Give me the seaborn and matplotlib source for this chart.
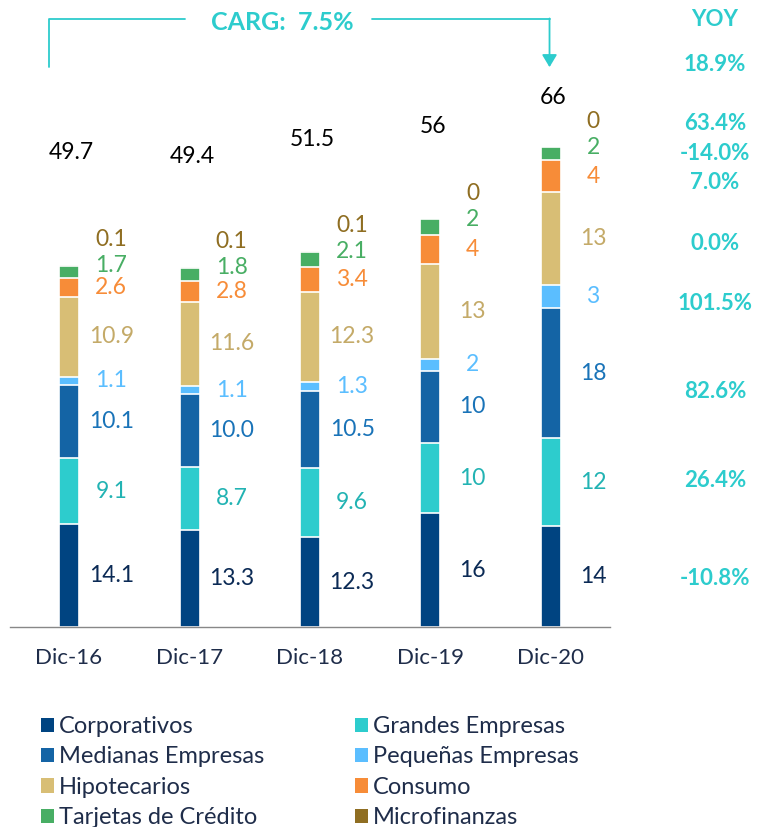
import matplotlib
matplotlib.use("Agg")
import matplotlib.pyplot as plt
from matplotlib.patches import Patch
import numpy as np
import pandas as pd
import seaborn as sns

# data
periods = ["Dic-16", "Dic-17", "Dic-18", "Dic-19", "Dic-20"]
series = ["Corporativos", "Grandes Empresas", "Medianas Empresas", "Pequeñas Empresas",
          "Hipotecarios", "Consumo", "Tarjetas de Crédito", "Microfinanzas"]
corporativos = [14.1, 13.3, 12.3, 15.6, 13.9]
grandes = [9.1, 8.7, 9.6, 9.7, 12.0]
medianas = [10.1, 10.0, 10.5, 9.9, 17.9]
pequenas = [1.1, 1.1, 1.3, 1.6, 3.2]
hipotecarios = [10.9, 11.6, 12.3, 13.0, 12.8]
consumo = [2.6, 2.8, 3.4, 4.1, 4.3]
tarjetas = [1.7, 1.8, 2.1, 2.1, 1.8]
microfinanzas = [0.1, 0.1, 0.1, 0.0, 0.0]
totals = [49.7, 49.4, 51.5, 56, 66]
decimals = [1, 1, 1, 0, 0]
yoy_series = [-10.8, 26.4, 82.6, 101.5, 0.0, 7.0, -14.0, 63.4]
yoy_total = 18.9
carg = 7.5

colors = ["#004481", "#2DCCCD", "#1464A5", "#5BBEFF", "#D8BE75", "#F78C38", "#48AE64", "#8F6E22"]
label_colors = ["#0B2A55", "#22B3B3", "#1973B8", "#5BBEFF", "#C4AA68", "#F78C38", "#48AE64", "#8F6E22"]
teal = "#2DCCCD"
dark = "#1F2D4A"

values = [corporativos, grandes, medianas, pequenas, hipotecarios, consumo, tarjetas, microfinanzas]
df = pd.DataFrame(np.array(values).T, columns=series, index=periods)
cum = df.cumsum(axis=1)

sns.set_style("white")
plt.rcParams["font.family"] = ["Lato", "DejaVu Sans"]

fig = plt.figure(figsize=(7.59, 8.27), dpi=100)
ax = fig.add_axes([10 / 759, 1 - 627 / 827, 600 / 759, 627 / 827])

# stacked bars: draw cumulative heights from top to bottom so each overlays
for i in range(len(series) - 1, -1, -1):
    sns.barplot(x=periods, y=cum[series[i]].values, color=colors[i], saturation=1,
                width=0.166, edgecolor="white", linewidth=1.2, ax=ax)

px = 7.28  # pixels per unit
ax.set_xlim(-0.49, 4.49)
ax.set_ylim(0, 627 / px)
ax.set_xlabel("")
ax.set_ylabel("")
ax.set_yticks([])
sns.despine(ax=ax, left=True, top=True, right=True)
ax.spines["bottom"].set_color("#888888")
ax.spines["bottom"].set_linewidth(1)
ax.tick_params(axis="x", length=0, pad=15, labelsize=16, labelcolor=dark)

# segment labels
for j, p in enumerate(periods):
    tot = cum.iloc[j, -1]
    for i, s in enumerate(series):
        v = df.iloc[j, i]
        top = cum.iloc[j, i]
        if s == "Microfinanzas":
            y = tot + 3.5
        elif s == "Tarjetas de Crédito":
            y = tot
        else:
            y = top - v / 2
        ax.text(j + 0.35, y, f"{v:.{decimals[j]}f}", color=label_colors[i], fontsize=16.5,
                ha="center", va="center", clip_on=False)

# totals above bars
total_label_y = [65.2, 64.6, 66.9, 68.7, 72.8]
for j, t in enumerate(totals):
    ax.text(j + 0.02, total_label_y[j], f"{t:.{decimals[j]}f}", color="black", fontsize=16.5,
            ha="center", va="center", clip_on=False)

# YOY column
yoy_x = 5.36
ax.text(yoy_x, 83.5, "YOY", color=teal, fontsize=16, fontweight="bold",
        ha="center", va="center", clip_on=False)
yoy_y_total = 77.3
yoy_y_series = [6.7, 20.1, 32.4, 44.4, 52.7, 61.1, 65.0, 69.1]
ax.text(yoy_x, yoy_y_total, f"{yoy_total:.1f}%", color=teal, fontsize=16, fontweight="bold",
        ha="center", va="center", clip_on=False)
for i, v in enumerate(yoy_series):
    ax.text(yoy_x, yoy_y_series[i], f"{v:.1f}%", color=teal, fontsize=16, fontweight="bold",
            ha="center", va="center", clip_on=False)

# CARG bracket
y_line = 83.5
ax.plot([-0.167, -0.167, 0.961], [76.9, y_line, y_line], color=teal, lw=1.3, clip_on=False)
ax.plot([2.512, 3.988], [y_line, y_line], color=teal, lw=1.3, clip_on=False)
ax.annotate("", xy=(3.988, 76.9), xytext=(3.988, y_line + 0.09),
            arrowprops=dict(arrowstyle="-|>,head_width=0.45,head_length=0.75", color=teal,
                            lw=1.3, shrinkA=0, shrinkB=0),
            annotation_clip=False)
ax.text(1.774, 83.0, f"CARG:  {carg}%", color=teal, fontsize=18, fontweight="bold",
        ha="center", va="center", clip_on=False)

# legend: two columns filled row by row
handles = [Patch(facecolor=c, edgecolor="none") for c in colors]
leg_kw = dict(loc="upper left", frameon=False, fontsize=17, handlelength=0.55, handleheight=0.55,
              handletextpad=0.2, labelspacing=0.4, labelcolor=dark, borderaxespad=0, borderpad=0)
fig.legend(handles[0::2], series[0::2], bbox_to_anchor=(41 / 759, 1 - 716 / 827), **leg_kw)
fig.legend(handles[1::2], series[1::2], bbox_to_anchor=(355 / 759, 1 - 716 / 827), **leg_kw)

fig.savefig("out.png", dpi=100)
